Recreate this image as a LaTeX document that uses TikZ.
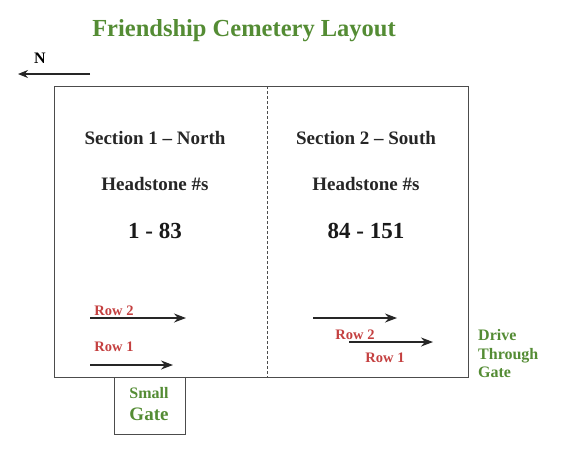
\documentclass[tikz,border=0pt]{standalone}
\usepackage{fontspec}
\setmainfont{Liberation Serif}
\usetikzlibrary{arrows.meta}
\definecolor{tgreen}{RGB}{84,140,52}
\definecolor{tred}{RGB}{196,64,64}
\tikzset{
  lbl/.style={font=\bfseries\fontsize{19}{21}\selectfont, text=black!85, inner sep=0pt},
  big/.style={font=\bfseries\fontsize{23}{25}\selectfont, text=black!90, inner sep=0pt},
  rowlbl/.style={font=\bfseries\fontsize{14.5}{16}\selectfont, text=tred, inner sep=0pt},
  rowarrow/.style={draw=black!85, line width=1.1pt, -{Stealth[length=12pt,width=9pt]}},
  boxline/.style={draw=black!70, line width=1pt},
}
\begin{document}
\begin{tikzpicture}[x=1pt,y=-1pt]
\useasboundingbox (0,0) rectangle (561,448);
\node[font=\bfseries\fontsize{24.5}{26}\selectfont, text=tgreen, inner sep=0pt] (title) at (244,31) {Friendship Cemetery Layout};
\node[font=\bfseries\fontsize{16}{18}\selectfont, inner sep=0pt] (n) at (40,58) {N};
\coordinate (ns) at (90,74);
\coordinate (ne) at (18,74);
\draw[draw=black!85, line width=1.1pt, -{Stealth[length=10pt,width=8pt]}] (ns) -- (ne);
\draw[boxline] (54,86) rectangle (468,377);
\draw[boxline] (114,377) rectangle (185,434);
\draw[draw=black!70, line width=0.8pt, dash pattern=on 3pt off 2pt] (267,86) -- (267,377);
\node[lbl] (s1) at (155,138) {Section 1 – North};
\node[lbl] (h1) at (155,184) {Headstone \#s};
\node[big] (r1) at (155,231) {1 - 83};
\node[lbl] (s2) at (366,138) {Section 2 – South};
\node[lbl] (h2) at (366,184) {Headstone \#s};
\node[big] (r2) at (366,231) {84 - 151};
% left rows
\node[rowlbl] (l2) at (114,311) {Row 2};
\node[rowlbl] (l1) at (114,347) {Row 1};
\coordinate (a1s) at (90,318); \coordinate (a1e) at (186,318);
\coordinate (a2s) at (90,365); \coordinate (a2e) at (173,365);
\draw[rowarrow] (a1s) -- (a1e);
\draw[rowarrow] (a2s) -- (a2e);
% right rows
\coordinate (b1s) at (313,318); \coordinate (b1e) at (397,318);
\coordinate (b2s) at (349,342); \coordinate (b2e) at (433,342);
\draw[rowarrow] (b1s) -- (b1e);
\node[rowlbl] (m2) at (355,335) {Row 2};
\draw[rowarrow] (b2s) -- (b2e);
\node[rowlbl] (m1) at (385,358) {Row 1};
\node[font=\bfseries\fontsize{16}{18.5}\selectfont, text=tgreen, align=left, inner sep=0pt, anchor=west] (dg) at (478,354) {Drive\\Through\\Gate};
\node[font=\bfseries\fontsize{16}{18}\selectfont, text=tgreen, inner sep=0pt] (sg1) at (149,393) {Small};
\node[font=\bfseries\fontsize{19}{21}\selectfont, text=tgreen, inner sep=0pt] (sg2) at (149,414) {Gate};
\end{tikzpicture}
\end{document}
